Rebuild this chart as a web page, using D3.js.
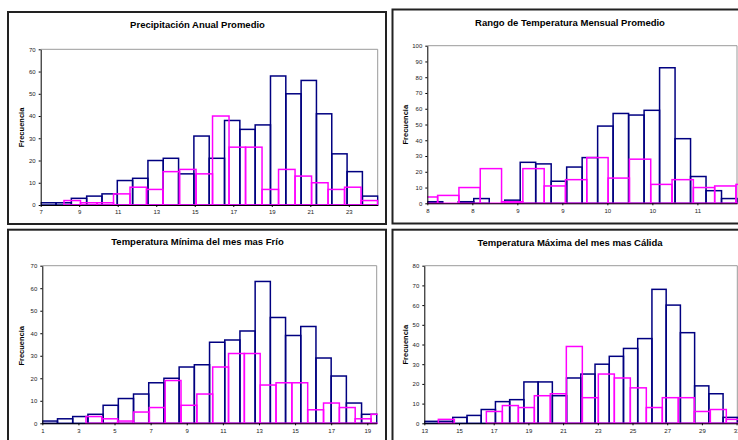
<!DOCTYPE html>
<html>
<head>
<meta charset="utf-8">
<script src="https://cdn.jsdelivr.net/npm/d3@7"></script>
<style>
body { margin: 0; background: #fff; }
text { font-family: "Liberation Sans", Arial, sans-serif; }
</style>
</head>
<body>
<svg id="canvas" width="738" height="440"></svg>
<script>
// titulos de los cuatro histogramas
var titulos = [
	"Precipitación Anual Promedio",
	"Rango de Temperatura Mensual Promedio",
	"Temperatura Mínima del mes mas Frío",
	"Temperatura Máxima del mes mas Cálida"
];

// frecuencias (azul = serie 1, rosa = serie 2)
var precipAzul = [1,1,3,4,5,11,12,20,21,14,31,21,38,34,36,58,50,56,41,23,15,4];
var precipRosa = [2,1,1,5,8,7,15,16,14,40,26,26,7,16,13,10,7,8,2];
var rangoAzul = [1,0,1,3,0,2,26,25,14,23,29,49,57,56,59,86,41,17,8,3];
var rangoRosa = [4,5,10,22,1,22,11,15,29,16,28,12,15,10,11,12];
var minimaAzul = [1,2,3,4,8,11,13,18,20,25,26,36,37,41,63,47,39,43,29,21,9,4];
var minimaRosa = [3,2,1,5,7,19,8,13,25,31,31,17,18,18,6,9,7,2,4];
var maximaAzul = [1,1,3,4,7,11,12,21,21,14,23,25,30,34,38,43,68,60,46,19,15,3];
var maximaRosa = [2,0,0,6,9,8,14,15,39,13,25,23,18,8,13,13,6,7,2];

// clases: [inicio, ancho] en unidades del eje x
var precipClasesAzul = [7, 0.7955];
var precipClasesRosa = [8.21, 0.857];
var rangoClasesAzul = [7.5, 0.172];
var rangoClasesRosa = [7.378, 0.2367];
var minimaClasesAzul = [1, 0.842];
var minimaClasesRosa = [3.42, 0.877];
var maximaClasesAzul = [13, 0.82];
var maximaClasesRosa = [13.81, 0.922];

// ejes
var precipDominio = [7, 24.5];
var rangoDominio = [7.5, 10.94];
var minimaDominio = [1, 19.52];
var maximaDominio = [13, 31.04];
var precipTicks = [7,9,11,13,15,17,19,21,23];
var rangoTicks = [7.5,8,8.5,9,9.5,10,10.5];
var minimaTicks = [1,3,5,7,9,11,13,15,17,19];
var maximaTicks = [13,15,17,19,21,23,25,27,29,31];
var precipY = [0,10,20,30,40,50,60,70];
var rangoY = [0,10,20,30,40,50,60,70,80,90,100];
var minimaY = [0,10,20,30,40,50,60,70];
var maximaY = [0,10,20,30,40,50,60,70,80];

var paneles = [
	{ titulo: titulos[0], azul: precipAzul, rosa: precipRosa, cAzul: precipClasesAzul, cRosa: precipClasesRosa,
	  dominio: precipDominio, xt: precipTicks, yt: precipY,
	  marco: [8, 12, 378, 212], area: [40.7, 377.7, 49.3, 205], tx: 197.5, ty: 27.5, lx: 21.7, ly: 127.5 },
	{ titulo: titulos[1], azul: rangoAzul, rosa: rangoRosa, cAzul: rangoClasesAzul, cRosa: rangoClasesRosa,
	  dominio: rangoDominio, xt: rangoTicks, yt: rangoY,
	  marco: [392.5, 9.5, 370, 214], area: [427.3, 737, 45.7, 203.3], tx: 570, ty: 26, lx: 405.7, ly: 124.7 },
	{ titulo: titulos[2], azul: minimaAzul, rosa: minimaRosa, cAzul: minimaClasesAzul, cRosa: minimaClasesRosa,
	  dominio: minimaDominio, xt: minimaTicks, yt: minimaY,
	  marco: [8, 229.7, 378, 230], area: [42.3, 376.7, 265.7, 423.3], tx: 197.5, ty: 245, lx: 21.7, ly: 345.8 },
	{ titulo: titulos[3], azul: maximaAzul, rosa: maximaRosa, cAzul: maximaClasesAzul, cRosa: maximaClasesRosa,
	  dominio: maximaDominio, xt: maximaTicks, yt: maximaY,
	  marco: [392.5, 229.7, 370, 230], area: [424.3, 737.3, 265.7, 423.3], tx: 570, ty: 246, lx: 405.7, ly: 344.7 }
];

var canvas = d3.select("#canvas");
canvas.append("rect").attr("width", 738).attr("height", 440).attr("fill", "#fff");

paneles.forEach(dibujar);

function dibujar(p, n) {
	var g = canvas.append("g");
	var a = p.area;

	g.append("rect")
		.attr("x", p.marco[0]).attr("y", p.marco[1])
		.attr("width", p.marco[2]).attr("height", p.marco[3])
		.attr("fill", "none").attr("stroke", "#222").attr("stroke-width", 2);

	g.append("text")
		.attr("x", p.tx).attr("y", p.ty)
		.attr("text-anchor", "middle")
		.style("font-size", "9.5px").style("font-weight", "bold")
		.text(p.titulo);

	g.append("text")
		.attr("transform", "translate(" + p.lx + "," + p.ly + ") rotate(-90)")
		.attr("text-anchor", "middle").attr("dy", "0.35em")
		.style("font-size", "7.5px").style("font-weight", "bold")
		.text("Frecuencia");

	var x = d3.scaleLinear().domain(p.dominio).range([a[0], a[1]]);
	var y = d3.scaleLinear().domain([0, p.yt[p.yt.length - 1]]).range([a[3], a[2]]);

	// borde gris del area de trazado
	g.append("path")
		.attr("d", "M" + a[0] + "," + a[2] + "H" + a[1] + "V" + a[3])
		.attr("fill", "none").attr("stroke", "#9a9a9a").attr("stroke-width", 1);

	var clipId = "clip" + n;
	g.append("clipPath").attr("id", clipId)
		.append("rect")
		.attr("x", a[0]).attr("y", a[2] - 2)
		.attr("width", a[1] - a[0] + 1).attr("height", a[3] - a[2] + 3);

	var barras = g.append("g").attr("clip-path", "url(#" + clipId + ")");
	serie(barras, p.azul, p.cAzul, x, y, "#000080");
	serie(barras, p.rosa, p.cRosa, x, y, "#ff00ff");

	var ejeY = g.append("g")
		.attr("transform", "translate(" + a[0] + ",0)")
		.call(d3.axisLeft(y).tickValues(p.yt).tickSize(2).tickSizeOuter(0).tickPadding(3));
	var ejeX = g.append("g")
		.attr("transform", "translate(0," + a[3] + ")")
		.call(d3.axisBottom(x).tickValues(p.xt).tickSize(2).tickSizeOuter(0).tickPadding(3)
			.tickFormat(function(d) { return Math.round(d); }));

	[ejeY, ejeX].forEach(function(e) {
		e.selectAll("text").style("font-size", "6px").attr("fill", "#222")
			.style("font-family", "'Liberation Sans', Arial, sans-serif");
		e.select(".domain").attr("stroke", "#000");
		e.selectAll(".tick line").attr("stroke", "#000");
	});
}

function serie(g, valores, clases, x, y, color) {
	var datos = valores.map(function(v, i) {
		return { v: v, x0: clases[0] + i * clases[1], x1: clases[0] + (i + 1) * clases[1] };
	}).filter(function(d) { return d.v > 0; });

	g.selectAll(null).data(datos).enter().append("rect")
		.attr("x", function(d) { return x(d.x0); })
		.attr("y", function(d) { return y(d.v); })
		.attr("width", function(d) { return x(d.x1) - x(d.x0); })
		.attr("height", function(d) { return y(0) - y(d.v); })
		.attr("fill", "none")
		.attr("stroke", color)
		.attr("stroke-width", 1.5);
}
</script>
</body>
</html>
